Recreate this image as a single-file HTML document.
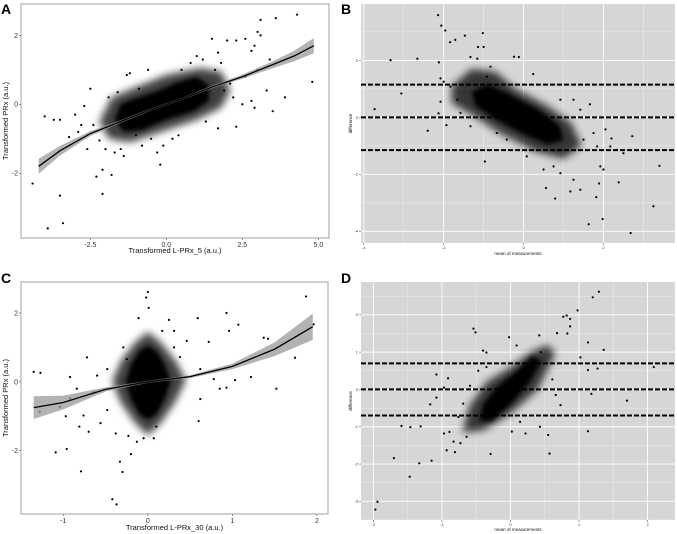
<!DOCTYPE html>
<html><head><meta charset="utf-8">
<style>
html,body{margin:0;padding:0;background:#fff;}
svg{display:block;font-family:"Liberation Sans",sans-serif;}
</style></head>
<body>
<svg id="fig" width="677" height="534" viewBox="0 0 677 534">
<defs>
<filter id="blurO" x="-20%" y="-20%" width="140%" height="140%"><feGaussianBlur stdDeviation="4"/></filter>
<filter id="blurI" x="-20%" y="-20%" width="140%" height="140%"><feGaussianBlur stdDeviation="2"/></filter>
</defs>
</svg>
<script>
// ---------- Panel A data ----------
const aPoints=[[-4.4,-2.3],[-3.9,-3.6],[-3.5,-2.65],[-3.4,-3.45],[-4,-0.35],[-3.7,-0.45],[-3.5,-0.45],[-3.2,-0.95],[-2.9,-0.8],[-2.7,-0.05],[-2.5,0.45],[-2.2,-1.05],[-2.1,-2.6],[-2.1,-1.9],[-1.8,-2.05],[-2.3,-2.1],[-1.5,-1.3],[-1.2,0.9],[-1.3,0.85],[-0.9,0.45],[-0.6,1.0],[-0.2,-1.75],[-0.3,-1.4],[0.2,-1.0],[1.0,1.4],[1.2,1.3],[1.5,1.9],[1.7,1.5],[2.0,1.85],[2.3,1.85],[2.6,1.9],[2.8,1.55],[2.9,1.7],[3.0,2.1],[3.1,2.0],[3.1,2.45],[3.4,1.3],[3.6,2.5],[4.3,2.6],[4.8,0.65],[3.9,0.2],[3.5,-0.2],[3.3,0.4],[2.3,-0.65],[1.7,-0.7],[2.8,0.1],[2.9,-0.1],[2.5,0],[2.2,0.2],[-0.1,-1.2],[1.3,-0.5],[-2.0,-1.3],[-1.7,-1.4],[-2.4,-0.6],[-2.8,-0.6],[-3.0,-0.3],[-1.9,0.2],[-1.6,0.35],[0.4,-0.9],[1.9,0.4],[2.1,0.6],[2.6,0.8],[3.0,1.0],[1.6,1.0],[1.8,1.2],[-1.0,-0.9],[-0.5,-1.0],[0.5,1.0],[0.8,1.2],[-2.6,-1.3],[-1.4,-1.5],[-0.8,-1.2]];
const aCoreOuter=[[-2.2,-0.5],[-1.9,-1.0],[-1.2,-1.1],[0,-0.75],[1.0,-0.45],[1.8,-0.1],[2.1,0.4],[1.8,0.95],[1.1,1.05],[0,0.85],[-1.0,0.5],[-1.8,0.2]];
const aCoreInner=[[-1.7,-0.45],[-1.4,-0.8],[-0.8,-0.75],[0,-0.45],[0.9,-0.2],[1.4,0.1],[1.4,0.55],[1.0,0.8],[0.4,0.65],[-0.4,0.35],[-1.1,0.15],[-1.5,0.0]];
const aFitX=[-4.2,-3.5,-2.5,-1.5,-0.5,0.5,1.5,2.5,3.5,4.2,4.85];
const aFitY=[-1.8,-1.35,-0.85,-0.5,-0.15,0.15,0.5,0.8,1.15,1.4,1.7];
const aFitSE=[0.22,0.14,0.07,0.04,0.03,0.03,0.04,0.06,0.1,0.15,0.22];
const aXTicks=[-2.5,0,2.5,5];
const aXTickLabels=["-2.5","0.0","2.5","5.0"];
const aYTicks=[-2,0,2];
const aYTickLabels=["-2","0","2"];

// ---------- Panel B data ----------
const bPoints=[[-2.14,3.59],[-2.06,3.22],[-1.96,3.05],[-1.02,2.96],[-1.47,2.87],[-3.33,2.01],[-2.66,2.06],[-3.06,0.84],[-3.73,0.29],[-2.4,-0.47],[-0.97,-1.55],[3.4,-1.7],[3.25,-3.12],[2.68,-4.06],[1.98,-3.57],[1.63,-3.75],[2.38,-2.28],[1.89,-2.32],[1.82,-2.8],[0.56,-2.48],[0.79,-2.85],[2.72,-0.66],[2.2,-0.74],[2.05,-0.42],[1.66,0.46],[0.24,1.52],[-0.12,2.12],[-0.24,2.13],[-1.84,2.64],[-1.71,2.72],[-2.12,1.93],[-2.08,1.37],[-2.0,1.25],[-2.13,0.14],[-1.93,-0.27],[-2.08,0.55],[-1.0,2.47],[-1.14,2.47],[-1.33,2.12],[-1.16,2.06],[0.92,0.62],[1.25,0.62],[1.42,0.27],[1.5,-0.78],[1.75,-0.55],[1.84,-1.02],[2.17,-1.02],[2.34,-1.14],[2.5,-1.26],[1.92,-1.72],[2.0,-1.83],[1.25,-2.19],[1.42,-2.54],[1.17,-2.6],[0.92,-1.96],[0.75,-1.72],[0.5,-1.83],[0.08,-1.37],[-0.42,-0.78],[-0.67,-0.55],[-1.33,-0.31],[-1.58,0.16],[-1.66,0.62],[-1.83,1.08],[-0.92,1.43],[-0.83,1.78]];
const bCoreOuter=[[-1.8,1.1],[-1.3,1.7],[-0.7,1.6],[-0.2,1.0],[0.6,0.4],[1.2,-0.2],[1.45,-1.0],[1.0,-1.45],[0.3,-1.2],[-0.6,-0.55],[-1.3,0.1],[-1.8,0.5]];
const bCoreInner=[[-1.3,0.9],[-0.9,1.15],[-0.4,0.85],[0.4,0.25],[0.9,-0.3],[1.0,-0.8],[0.6,-0.95],[0.0,-0.6],[-0.6,-0.15],[-1.2,0.4]];
const bLimits=[1.15,0,-1.15];
const bXTicks=[-4,-2,0,2];
const bXTickLabels=["-4","-2","0","2"];
const bYTicks=[-4,-2,0,2];
const bYTickLabels=["-4","-2","0","2"];

// ---------- Panel C data ----------
const cPoints=[[-1.35,0.29],[-1.27,0.26],[-1.28,-0.87],[-1.09,-2.05],[-0.96,-1.95],[-0.79,-2.6],[-0.42,-3.41],[-0.37,-3.56],[-0.33,-2.32],[-0.3,-2.62],[-0.2,-2.1],[-0.72,0.71],[-0.92,0.14],[0.0,2.61],[-0.02,2.45],[0.01,2.15],[-0.11,1.85],[0.93,2.0],[0.59,1.85],[0.96,1.48],[1.07,1.66],[0.72,1.16],[1.74,0.7],[1.87,2.48],[1.96,1.67],[1.37,1.28],[1.42,1.25],[1.52,-0.2],[1.22,0.14],[0.93,-0.17],[1.03,0.05],[0.6,-1.14],[0.62,-0.5],[0.17,1.48],[0.31,1.0],[0.46,1.19],[0.38,0.72],[-0.7,-1.45],[-0.81,-1.3],[-0.92,-0.48],[-1.04,-0.72],[-0.48,-0.82],[-0.56,-1.2],[-0.38,-1.5],[-0.13,-1.74],[-0.05,-1.64],[0.07,-1.64],[-0.23,-1.57],[0.1,-1.3],[-0.29,1.0],[-0.25,0.66],[-0.48,0.37],[-0.6,0.18],[-0.64,-0.3],[0.25,1.8],[0.31,1.48],[0.62,0.37],[0.78,0.08],[0.85,-0.2],[-0.84,-0.2],[-0.76,-0.98],[-0.97,-1.0]];
const cCoreOuter=[[-0.42,0],[-0.32,0.6],[-0.15,1.15],[0,1.45],[0.15,1.15],[0.33,0.6],[0.45,0.05],[0.32,-0.6],[0.15,-1.2],[0,-1.55],[-0.15,-1.2],[-0.32,-0.6]];
const cCoreInner=[[-0.26,0],[-0.2,0.5],[-0.1,0.9],[0,1.05],[0.1,0.9],[0.2,0.5],[0.27,0],[0.2,-0.5],[0.1,-0.95],[0,-1.1],[-0.1,-0.95],[-0.2,-0.5]];
const cFitX=[-1.35,-1.0,-0.5,0,0.5,1.0,1.5,1.95];
const cFitY=[-0.75,-0.6,-0.22,0,0.15,0.45,0.95,1.6];
const cFitSE=[0.33,0.2,0.06,0.03,0.04,0.08,0.2,0.38];
const cXTicks=[-1,0,1,2];
const cXTickLabels=["-1","0","1","2"];
const cYTicks=[-2,0,2];
const cYTickLabels=["-2","0","2"];

// ---------- Panel D data ----------
const dPoints=[[-1.97,-3.22],[-1.94,-3.01],[-1.7,-1.84],[-1.47,-2.34],[-1.33,-1.98],[-1.15,-1.91],[-1.59,-0.98],[-1.46,-1.01],[-1.31,-0.99],[-1.08,0.4],[-1.08,-0.22],[-1.17,-0.4],[-0.91,0.3],[-0.97,0.05],[-0.54,1.63],[-0.51,1.53],[-0.4,1.04],[-0.35,0.99],[-0.02,1.4],[0.09,1.18],[0.42,1.45],[1.2,2.47],[1.29,2.62],[0.98,2.12],[0.82,1.98],[0.77,1.95],[0.87,1.89],[0.83,1.5],[1.13,1.26],[1.36,1.06],[1.02,0.86],[1.13,0.52],[1.27,0.56],[2.09,0.6],[1.7,-0.3],[1.18,-0.12],[1.13,-1.12],[0.57,-1.72],[-0.29,-1.73],[0.02,-1.13],[0.55,-1.22],[0.22,-1.18],[0.61,0.27],[0.66,-0.15],[0.73,-0.42],[0.43,-1.0],[0.14,-0.87],[-0.69,-0.38],[-0.76,-0.74],[-0.89,-1.14],[-0.81,-1.68],[-0.93,-1.63],[-0.97,-1.18],[-0.73,-1.44],[-0.64,-1.27],[-0.83,-1.4],[-0.47,0.5],[-0.59,0.1],[-0.35,0.6],[0.44,1.0],[0.53,0.7],[0.87,1.69],[0.68,1.51]];
const dCoreOuter=[[-0.7,-1.15],[-0.4,-1.1],[0,-0.65],[0.4,0.0],[0.65,0.95],[0.55,1.2],[0.3,1.0],[0.0,0.6],[-0.35,0.2],[-0.6,-0.45]];
const dCoreInner=[[-0.45,-0.85],[-0.28,-0.85],[0,-0.4],[0.28,0.2],[0.45,0.75],[0.32,0.9],[0.1,0.5],[-0.18,0.1],[-0.4,-0.4]];
const dLimits=[0.7,0,-0.7];
const dXTicks=[-2,-1,0,1,2];
const dXTickLabels=["-2","-1","0","1","2"];
const dYTicks=[-3,-2,-1,0,1,2];
const dYTickLabels=["-3","-2","-1","0","1","2"];

const NS="http://www.w3.org/2000/svg";
const svg=document.getElementById('fig');
function mk(tag,attrs,parent){const e=document.createElementNS(NS,tag);for(const k in attrs)e.setAttribute(k,attrs[k]);(parent||svg).appendChild(e);return e;}

function panel(cfg){
  const g=mk('g',{});
  
  
  const sx=v=>cfg.x0+(v-cfg.xmin)/(cfg.xmax-cfg.xmin)*(cfg.x1-cfg.x0);
  const sy=v=>cfg.y1-(v-cfg.ymin)/(cfg.ymax-cfg.ymin)*(cfg.y1-cfg.y0);
  const bg=mk('rect',{x:cfg.x0,y:cfg.y0,width:cfg.x1-cfg.x0,height:cfg.y1-cfg.y0,fill:cfg.gray?'#d6d6d6':'#fff',stroke:cfg.gray?'none':'#a0a0a0','stroke-width':1},g);
  
  
  if(cfg.gray){
    const step=cfg.xTicks[1]-cfg.xTicks[0], ystep=cfg.yTicks[1]-cfg.yTicks[0];
    for(let v=Math.ceil(cfg.xmin/(step/2))*(step/2);v<=cfg.xmax;v+=step/2){
      const major=cfg.xTicks.some(t=>Math.abs(t-v)<1e-6);
      mk('line',{x1:sx(v),x2:sx(v),y1:cfg.y0,y2:cfg.y1,stroke:'#fff','stroke-width':major?0.9:0.4,opacity:major?1:0.7},g);
    }
    for(let v=Math.ceil(cfg.ymin/(ystep/2))*(ystep/2);v<=cfg.ymax;v+=ystep/2){
      const major=cfg.yTicks.some(t=>Math.abs(t-v)<1e-6);
      mk('line',{x1:cfg.x0,x2:cfg.x1,y1:sy(v),y2:sy(v),stroke:'#fff','stroke-width':major?0.9:0.4,opacity:major?1:0.7},g);
    }
  }
  const poly=(pts)=>pts.map(p=>sx(p[0]).toFixed(1)+','+sy(p[1]).toFixed(1)).join(' ');
  const co=mk('polygon',{points:poly(cfg.coreOuter),fill:'#000',opacity:0.75,filter:'url(#blurO)'},g);
  
  
  const ci=mk('polygon',{points:poly(cfg.coreInner),fill:'#000',filter:'url(#blurI)'},g);
  
  
  cfg.points.forEach(p=>{
    const c=mk('circle',{cx:sx(p[0]),cy:sy(p[1]),r:cfg.r,fill:'#000'},g);
    
    
  });
  if(cfg.fitX){
    const up=cfg.fitX.map((x,i)=>sx(x)+','+sy(cfg.fitY[i]+cfg.fitSE[i]));
    const dn=cfg.fitX.map((x,i)=>sx(x)+','+sy(cfg.fitY[i]-cfg.fitSE[i])).reverse();
    const band=mk('polygon',{points:up.concat(dn).join(' '),fill:'#999',opacity:0.75},g);
    
    
    const ln=mk('polyline',{points:cfg.fitX.map((x,i)=>sx(x)+','+sy(cfg.fitY[i])).join(' '),fill:'none',stroke:'#000','stroke-width':1.3},g);
    
    
  }
  if(cfg.limits){
    cfg.limits.forEach(v=>{
      const l=mk('line',{x1:cfg.x0,x2:cfg.x1,y1:sy(v),y2:sy(v),stroke:'#000','stroke-width':2,'stroke-dasharray':'5,2'},g);
      
      
    });
  }
  const fs=cfg.fs;
  cfg.xTicks.forEach((t,i)=>{
    mk('line',{x1:sx(t),x2:sx(t),y1:cfg.y1,y2:cfg.y1+2,stroke:'#555','stroke-width':0.6},g);
    const tx=mk('text',{x:sx(t),y:cfg.y1+2+fs,'font-size':fs,'text-anchor':'middle',fill:'#333'},g);
    tx.textContent=cfg.xTickLabels[i];
    
    
  });
  cfg.yTicks.forEach((t,i)=>{
    mk('line',{x1:cfg.x0-2,x2:cfg.x0,y1:sy(t),y2:sy(t),stroke:'#555','stroke-width':0.6},g);
    const tx=mk('text',{x:cfg.x0-3,y:sy(t)+fs*0.35,'font-size':fs,'text-anchor':'end',fill:'#333'},g);
    tx.textContent=cfg.yTickLabels[i];
    
    
  });
  const xt=mk('text',{x:(cfg.x0+cfg.x1)/2,y:cfg.xtY,'font-size':cfg.tfs,'text-anchor':'middle',fill:'#111'},g);
  xt.textContent=cfg.xTitle;
  
  
  const yc=(cfg.y0+cfg.y1)/2;
  const yt=mk('text',{x:cfg.ytX,y:yc,'font-size':cfg.tfs,'text-anchor':'middle',fill:'#111',transform:`rotate(-90 ${cfg.ytX} ${yc})`},g);
  yt.textContent=cfg.yTitle;
  
  
  const lb=mk('text',{x:cfg.lx,y:cfg.ly,'font-size':14,'font-weight':'bold',fill:'#000'},g);
  lb.textContent=cfg.label;
  
  
}

panel({name:'panel-a',label:'A',lx:1,ly:14,x0:21,x1:329,y0:4,y1:238,xmin:-4.78,xmax:5.35,ymin:-3.88,ymax:2.91,
  points:aPoints,coreOuter:aCoreOuter,coreInner:aCoreInner,fitX:aFitX,fitY:aFitY,fitSE:aFitSE,r:1.1,
  xTicks:aXTicks,xTickLabels:aXTickLabels,yTicks:aYTicks,yTickLabels:aYTickLabels,fs:7,tfs:7.5,
  xTitle:'Transformed L-PRx_5 (a.u.)',xtY:253,yTitle:'Transformed PRx (a.u.)',ytX:8});
panel({name:'panel-b',label:'B',lx:341,ly:14,x0:361,x1:675,y0:4,y1:243,xmin:-4.07,xmax:3.79,ymin:-4.41,ymax:3.98,gray:true,
  points:bPoints,coreOuter:bCoreOuter,coreInner:bCoreInner,limits:bLimits,r:1.1,
  xTicks:bXTicks,xTickLabels:bXTickLabels,yTicks:bYTicks,yTickLabels:bYTickLabels,fs:4,tfs:4.5,
  xTitle:'mean of measurements',xtY:255,yTitle:'difference',ytX:352});
panel({name:'panel-c',label:'C',lx:1,ly:283,x0:21,x1:328,y0:282,y1:514,xmin:-1.5,xmax:2.13,ymin:-3.84,ymax:2.9,
  points:cPoints,coreOuter:cCoreOuter,coreInner:cCoreInner,fitX:cFitX,fitY:cFitY,fitSE:cFitSE,r:1.1,
  xTicks:cXTicks,xTickLabels:cXTickLabels,yTicks:cYTicks,yTickLabels:cYTickLabels,fs:7,tfs:7.5,
  xTitle:'Transformed L-PRx_30 (a.u.)',xtY:530,yTitle:'Transformed PRx (a.u.)',ytX:8});
panel({name:'panel-d',label:'D',lx:341,ly:283,x0:361,x1:675,y0:282,y1:520,xmin:-2.18,xmax:2.4,ymin:-3.5,ymax:2.88,gray:true,
  points:dPoints,coreOuter:dCoreOuter,coreInner:dCoreInner,limits:dLimits,r:1.1,
  xTicks:dXTicks,xTickLabels:dXTickLabels,yTicks:dYTicks,yTickLabels:dYTickLabels,fs:4,tfs:4.5,
  xTitle:'mean of measurements',xtY:531,yTitle:'difference',ytX:352});
</script>
</body></html>
